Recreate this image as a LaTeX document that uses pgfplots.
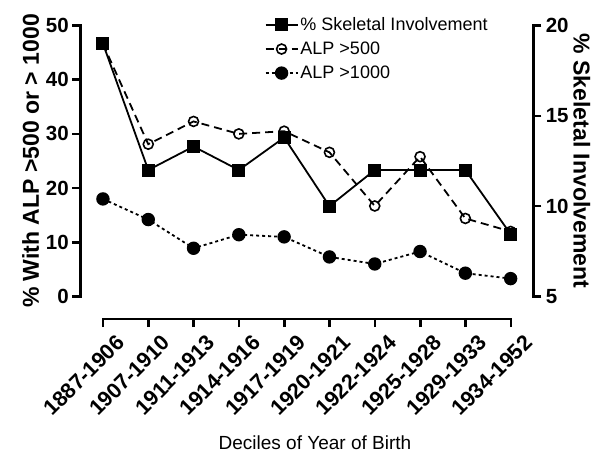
\documentclass[border=0pt]{standalone}
\usepackage{fontspec}
\setmainfont{Liberation Sans}
\usepackage{pgfplots}
\pgfplotsset{compat=1.18}
\pgfplotsset{
  common/.style={
    scale only axis, width=453bp, height=271bp,
    xmin=-0.5, xmax=9.5,
    axis x line=none,
    axis line style={line width=2.6bp, line cap=rect},
    every tick/.style={black, line width=2.6bp},
    major tick length=8bp,
    tick align=outside,
    /pgf/number format/assume math mode=true,
    ticklabel style={font=\bfseries\fontsize{20.5bp}{24bp}\selectfont},
    label style={font=\bfseries\fontsize{23bp}{27bp}\selectfont},
    clip=false,
  },
  legend image code/.code={\draw[mark repeat=2,mark phase=2,#1] plot coordinates {(0bp,0bp) (16bp,0bp) (32bp,0bp)};},
}
\begin{document}
\begin{tikzpicture}
\useasboundingbox (-80.3bp,-159.5bp) rectangle (526.7bp,296.5bp);
% right axis: skeletal involvement
\begin{axis}[common,
  ymin=5, ymax=20, ytick={5,10,15,20},
  axis y line*=right,
  yticklabel style={xshift=1bp},
  ylabel={\% Skeletal Involvement},
  ylabel style={rotate=180, yshift=-2bp},
]
\addplot[black, line width=1.8bp, mark=square*, mark size=5.6bp, mark options={solid}] coordinates {
(0,19.0) (1,12.0) (2,13.3) (3,12.0) (4,13.8) (5,10.0) (6,12.0) (7,12.0) (8,12.0) (9,8.45)};
\end{axis}
% left axis: ALP
\begin{axis}[common,
  ymin=0, ymax=50, ytick={0,10,20,30,40,50},
  axis y line*=left,
  ylabel={\% With ALP >500 or > 1000},
  legend style={at={(rel axis cs:0.40,1.045)}, anchor=north west, draw=none, fill=none,
    font=\fontsize{18bp}{21bp}\selectfont, row sep=6bp,
    /tikz/every even column/.append style={column sep=0bp}},
  legend cell align=left,
]
\addlegendimage{black, line width=1.8bp, mark=square*, mark size=5.6bp, mark options={solid}}
\addlegendentry{\% Skeletal Involvement}
\addplot[black, line width=1.8bp, dash pattern=on 8bp off 5bp, mark=o, mark size=5bp, mark options={solid, line width=1.6bp}] coordinates {
(0,46.6) (1,28.1) (2,32.3) (3,30.0) (4,30.5) (5,26.6) (6,16.7) (7,25.8) (8,14.4) (9,12.0)};
\addlegendentry{ALP >500}
\addplot[black, line width=1.8bp, dash pattern=on 3bp off 3bp, mark=*, mark size=5.8bp, mark options={solid}] coordinates {
(0,18.0) (1,14.2) (2,8.9) (3,11.4) (4,11.0) (5,7.3) (6,6.0) (7,8.3) (8,4.3) (9,3.3)};
\addlegendentry{ALP >1000}
\end{axis}
% detached x axis
\begin{axis}[
  scale only axis, width=408bp, height=5bp,
  at={(22.67bp,-22.5bp)}, anchor=south west,
  xmin=0, xmax=9, ymin=0, ymax=1,
  axis x line*=bottom, axis y line=none,
  axis line style={line width=2.6bp, line cap=rect, -},
  every tick/.style={black, line width=2.6bp},
  major tick length=8bp, tick align=outside,
  xtick={0,...,9},
  xticklabels={1887-1906,1907-1910,1911-1913,1914-1916,1917-1919,1920-1921,1922-1924,1925-1928,1929-1933,1934-1952},
  xticklabel style={rotate=45, anchor=north east, inner sep=1bp, xshift=5bp, yshift=-12bp, font=\bfseries\fontsize{21.5bp}{25bp}\selectfont},
  xlabel={Deciles of Year of Birth},
  xlabel style={font=\fontsize{19bp}{23bp}\selectfont, yshift=-14bp, xshift=8bp},
]
\end{axis}
\end{tikzpicture}
\end{document}
